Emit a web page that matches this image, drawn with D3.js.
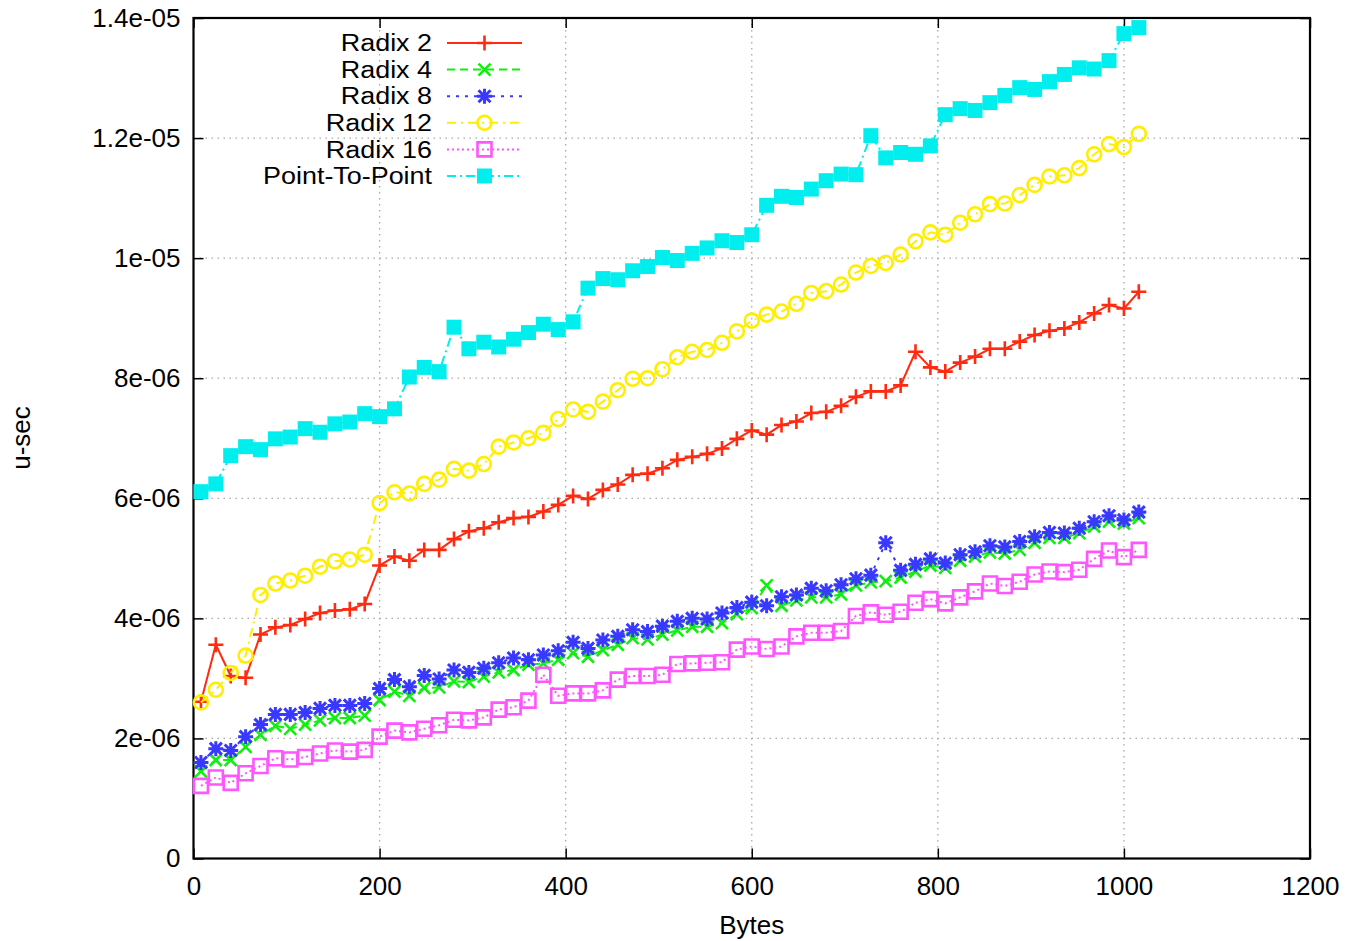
<!DOCTYPE html>
<html>
<head>
<meta charset="utf-8">
<script src="https://d3js.org/d3.v7.min.js"></script>
<style>
  body { margin: 0; background: #fff; }
  text { font-family: "Liberation Sans", Arial, sans-serif; }
</style>
</head>
<body>
<div id="chart"></div>
<script>
// frame
const FRAME_WIDTH = 1348;
const FRAME_HEIGHT = 941;
const MARGINS = {left: 193.5, right: 38, top: 18, bottom: 82.5};
const VIS_WIDTH = FRAME_WIDTH - MARGINS.left - MARGINS.right;
const VIS_HEIGHT = FRAME_HEIGHT - MARGINS.top - MARGINS.bottom;

// message sizes (bytes)
const bytes = [8, 24, 40, 56, 72, 88, 104, 120, 136, 152, 168, 184, 200, 216, 232, 248,
  264, 280, 296, 312, 328, 344, 360, 376, 392, 408, 424, 440, 456, 472, 488, 504,
  520, 536, 552, 568, 584, 600, 616, 632, 648, 664, 680, 696, 712, 728, 744, 760,
  776, 792, 808, 824, 840, 856, 872, 888, 904, 920, 936, 952, 968, 984, 1000, 1016];

// times, in units of 1e-6 u-sec
const radix2 = [2.61, 3.56, 3.04, 3.01, 3.73, 3.85, 3.89, 3.99, 4.09, 4.13,
  4.15, 4.24, 4.88, 5.03, 4.96, 5.14, 5.14, 5.32, 5.45, 5.5,
  5.6, 5.67, 5.69, 5.78, 5.89, 6.04, 5.99, 6.14, 6.23, 6.39,
  6.41, 6.5, 6.64, 6.69, 6.74, 6.83, 6.99, 7.13, 7.06, 7.22,
  7.28, 7.42, 7.44, 7.54, 7.69, 7.78, 7.78, 7.88, 8.44, 8.18,
  8.11, 8.26, 8.36, 8.49, 8.49, 8.61, 8.72, 8.79, 8.83, 8.93,
  9.08, 9.22, 9.16, 9.44];
const radix4 = [1.45, 1.64, 1.64, 1.86, 2.06, 2.21, 2.16, 2.23, 2.3, 2.34,
  2.34, 2.38, 2.64, 2.78, 2.71, 2.84, 2.85, 2.95, 2.94, 3.03,
  3.1, 3.14, 3.23, 3.25, 3.31, 3.42, 3.36, 3.47, 3.56, 3.67,
  3.65, 3.73, 3.8, 3.86, 3.86, 3.92, 4.07, 4.17, 4.55, 4.21,
  4.3, 4.35, 4.35, 4.4, 4.55, 4.6, 4.62, 4.68, 4.78, 4.88,
  4.84, 4.96, 5.03, 5.1, 5.08, 5.14, 5.26, 5.34, 5.34, 5.42,
  5.53, 5.61, 5.58, 5.67];
const radix8 = [1.6, 1.83, 1.8, 2.03, 2.23, 2.4, 2.4, 2.43, 2.5, 2.55,
  2.55, 2.58, 2.83, 2.98, 2.86, 3.05, 2.99, 3.14, 3.1, 3.17,
  3.26, 3.34, 3.31, 3.39, 3.46, 3.6, 3.5, 3.64, 3.7, 3.81,
  3.78, 3.87, 3.95, 4.0, 3.99, 4.09, 4.18, 4.27, 4.21, 4.36,
  4.39, 4.5, 4.46, 4.56, 4.66, 4.72, 5.26, 4.8, 4.9, 4.99,
  4.92, 5.06, 5.11, 5.21, 5.19, 5.28, 5.36, 5.43, 5.42, 5.5,
  5.61, 5.71, 5.64, 5.77];
const radix12 = [2.6, 2.81, 3.09, 3.38, 4.39, 4.58, 4.63, 4.71, 4.86, 4.95,
  4.98, 5.06, 5.92, 6.1, 6.08, 6.24, 6.31, 6.49, 6.46, 6.57,
  6.86, 6.93, 7.0, 7.09, 7.32, 7.48, 7.44, 7.61, 7.8, 7.99,
  8.0, 8.15, 8.35, 8.44, 8.47, 8.59, 8.78, 8.96, 9.06, 9.11,
  9.24, 9.42, 9.45, 9.56, 9.76, 9.87, 9.92, 10.06, 10.28, 10.43,
  10.39, 10.59, 10.73, 10.9, 10.91, 11.05, 11.22, 11.36, 11.38, 11.5,
  11.73, 11.9, 11.85, 12.07];
const radix16 = [1.21, 1.35, 1.26, 1.42, 1.54, 1.67, 1.65, 1.69, 1.75, 1.8,
  1.78, 1.81, 2.03, 2.13, 2.1, 2.16, 2.22, 2.31, 2.3, 2.35,
  2.48, 2.52, 2.63, 3.06, 2.71, 2.75, 2.75, 2.8, 2.98, 3.04,
  3.04, 3.06, 3.24, 3.25, 3.26, 3.27, 3.48, 3.53, 3.49, 3.53,
  3.7, 3.76, 3.76, 3.79, 4.04, 4.1, 4.06, 4.11, 4.26, 4.32,
  4.25, 4.35, 4.45, 4.58, 4.54, 4.61, 4.73, 4.78, 4.77, 4.81,
  4.99, 5.13, 5.02, 5.14];
const pointToPoint = [6.11, 6.24, 6.71, 6.86, 6.81, 6.99, 7.02, 7.16, 7.1, 7.24,
  7.27, 7.41, 7.36, 7.49, 8.02, 8.18, 8.11, 8.85, 8.49, 8.6,
  8.52, 8.65, 8.76, 8.9, 8.81, 8.94, 9.5, 9.66, 9.64, 9.79,
  9.86, 10.01, 9.96, 10.08, 10.17, 10.29, 10.26, 10.39, 10.88, 11.03,
  11.01, 11.15, 11.29, 11.4, 11.39, 12.04, 11.67, 11.76, 11.73, 11.87,
  12.39, 12.49, 12.46, 12.59, 12.71, 12.84, 12.81, 12.94, 13.06, 13.17,
  13.15, 13.29, 13.74, 13.84];
const UNIT = 1e-6;

const seriesNames = ["Radix 2", "Radix 4", "Radix 8", "Radix 12", "Radix 16", "Point-To-Point"];
const seriesValues = [radix2, radix4, radix8, radix12, radix16, pointToPoint];

// axis ticks
const xTicks = [0, 200, 400, 600, 800, 1000, 1200];
const yTicks = [0, 2e-6, 4e-6, 6e-6, 8e-6, 1e-5, 1.2e-5, 1.4e-5];
const yTickLabels = ["0", "2e-06", "4e-06", "6e-06", "8e-06", "1e-05", "1.2e-05", "1.4e-05"];

// styles per series
const STYLES = [
  {color: "#ff2a10", dash: null, marker: "plus"},
  {color: "#11ee11", dash: "8,5", marker: "cross"},
  {color: "#3838ff", dash: "3,6", marker: "star"},
  {color: "#ffee00", dash: "9,5,2,5", marker: "circle"},
  {color: "#ff55ff", dash: "2,3", marker: "square"},
  {color: "#00eeee", dash: "9,4,2,4", marker: "fsquare"}
];

const svg = d3.select("#chart")
  .append("svg")
    .attr("width", FRAME_WIDTH)
    .attr("height", FRAME_HEIGHT);

const FRAME = svg.append("g")
  .attr("transform", "translate(" + MARGINS.left + "," + MARGINS.top + ")");

const x_scale = d3.scaleLinear().domain([0, 1200]).range([0, VIS_WIDTH]);
const y_scale = d3.scaleLinear().domain([0, 1.4e-5]).range([VIS_HEIGHT, 0]);

// grid
FRAME.append("g")
  .selectAll("line")
  .data(xTicks.slice(1, -1))
  .enter()
  .append("line")
    .attr("x1", d => x_scale(d)).attr("x2", d => x_scale(d))
    .attr("y1", 0).attr("y2", VIS_HEIGHT)
    .attr("stroke", "#a8a8a8").attr("stroke-width", 1.3)
    .attr("stroke-dasharray", "1.5,4.5");
FRAME.append("g")
  .selectAll("line")
  .data(yTicks.slice(1, -1))
  .enter()
  .append("line")
    .attr("x1", 0).attr("x2", VIS_WIDTH)
    .attr("y1", d => y_scale(d)).attr("y2", d => y_scale(d))
    .attr("stroke", "#a8a8a8").attr("stroke-width", 1.3)
    .attr("stroke-dasharray", "1.5,4.5");

// axes, ticks inward and mirrored like gnuplot
function styleAxis(g) {
  g.select(".domain").remove();
  g.selectAll(".tick line").attr("stroke", "#000").attr("stroke-width", 1.5);
  g.selectAll(".tick text").attr("fill", "#000").attr("font-size", "26px")
    .attr("font-family", "'Liberation Sans', Arial, sans-serif");
}

FRAME.append("g")
  .attr("transform", "translate(0," + VIS_HEIGHT + ")")
  .call(d3.axisBottom(x_scale).tickValues(xTicks).tickSize(-10).tickPadding(18)
    .tickFormat(d3.format("d")))
  .call(styleAxis);
FRAME.append("g")
  .call(d3.axisTop(x_scale).tickValues(xTicks).tickSize(-10).tickFormat(""))
  .call(styleAxis);
FRAME.append("g")
  .call(d3.axisLeft(y_scale).tickValues(yTicks).tickSize(-10).tickPadding(13)
    .tickFormat((d, i) => yTickLabels[i]))
  .call(styleAxis);
FRAME.append("g")
  .attr("transform", "translate(" + VIS_WIDTH + ",0)")
  .call(d3.axisRight(y_scale).tickValues(yTicks).tickSize(-10).tickFormat(""))
  .call(styleAxis);

// border
FRAME.append("rect")
  .attr("x", 0).attr("y", 0)
  .attr("width", VIS_WIDTH).attr("height", VIS_HEIGHT)
  .attr("fill", "none").attr("stroke", "#000").attr("stroke-width", 2.2);

// axis titles
svg.append("text")
  .attr("x", MARGINS.left + x_scale(600)).attr("y", 934)
  .attr("text-anchor", "middle").attr("font-size", "26px")
  .text("Bytes");
svg.append("text")
  .attr("transform", "translate(30,438) rotate(-90)")
  .attr("text-anchor", "middle").attr("font-size", "26px")
  .text("u-sec");

// markers
function markerPath(type) {
  switch (type) {
    case "plus": return "M-7.5,0H7.5M0,-7.5V7.5";
    case "cross": return "M-6,-6L6,6M-6,6L6,-6";
    case "star": return "M-7.5,0H7.5M0,-7.5V7.5M-6,-6L6,6M-6,6L6,-6";
    case "circle": return "M7,0A7,7 0 1,1 -7,0A7,7 0 1,1 7,0Z";
    case "square": return "M-7,-7H7V7H-7Z";
    case "fsquare": return "M-7.5,-7.5H7.5V7.5H-7.5Z";
  }
}

function drawMarker(g, type, color) {
  g.append("path")
    .attr("d", markerPath(type))
    .attr("fill", type === "fsquare" ? color : "none")
    .attr("stroke", color)
    .attr("stroke-width", type === "fsquare" ? 0 : (type === "star" ? 3 : 2.6));
}

const line = d3.line()
  .x(d => x_scale(d.x))
  .y(d => y_scale(d.y * UNIT));

seriesValues.forEach((vals, s) => {
  const st = STYLES[s];
  const pts = vals.map((v, i) => ({x: bytes[i], y: v}));

  FRAME.append("path")
    .datum(pts)
    .attr("d", line)
    .attr("fill", "none")
    .attr("stroke", st.color)
    .attr("stroke-width", 2)
    .attr("stroke-dasharray", st.dash);

  FRAME.append("g")
    .selectAll("g")
    .data(pts)
    .enter()
    .append("g")
      .attr("transform", d => "translate(" + x_scale(d.x) + "," + y_scale(d.y * UNIT) + ")")
      .each(function() { drawMarker(d3.select(this), st.marker, st.color); });
});

// legend (text a bit narrower in height so rows don't collide)
const LEGEND = {textRight: 432, lineStart: 447, lineEnd: 522, top: 43, step: 26.6};
const legend = svg.append("g");
seriesNames.forEach((name, i) => {
  const st = STYLES[i];
  const y = LEGEND.top + i * LEGEND.step;
  legend.append("text")
    .attr("transform", "translate(" + LEGEND.textRight + "," + y + ") scale(1.17,1)")
    .attr("dy", "0.36em")
    .attr("text-anchor", "end").attr("font-size", "23px")
    .text(name);
  legend.append("line")
    .attr("x1", LEGEND.lineStart).attr("x2", LEGEND.lineEnd)
    .attr("y1", y).attr("y2", y)
    .attr("stroke", st.color).attr("stroke-width", 2)
    .attr("stroke-dasharray", st.dash);
  const m = legend.append("g")
    .attr("transform", "translate(" + (LEGEND.lineStart + LEGEND.lineEnd) / 2 + "," + y + ")");
  drawMarker(m, st.marker, st.color);
});
</script>
</body>
</html>
